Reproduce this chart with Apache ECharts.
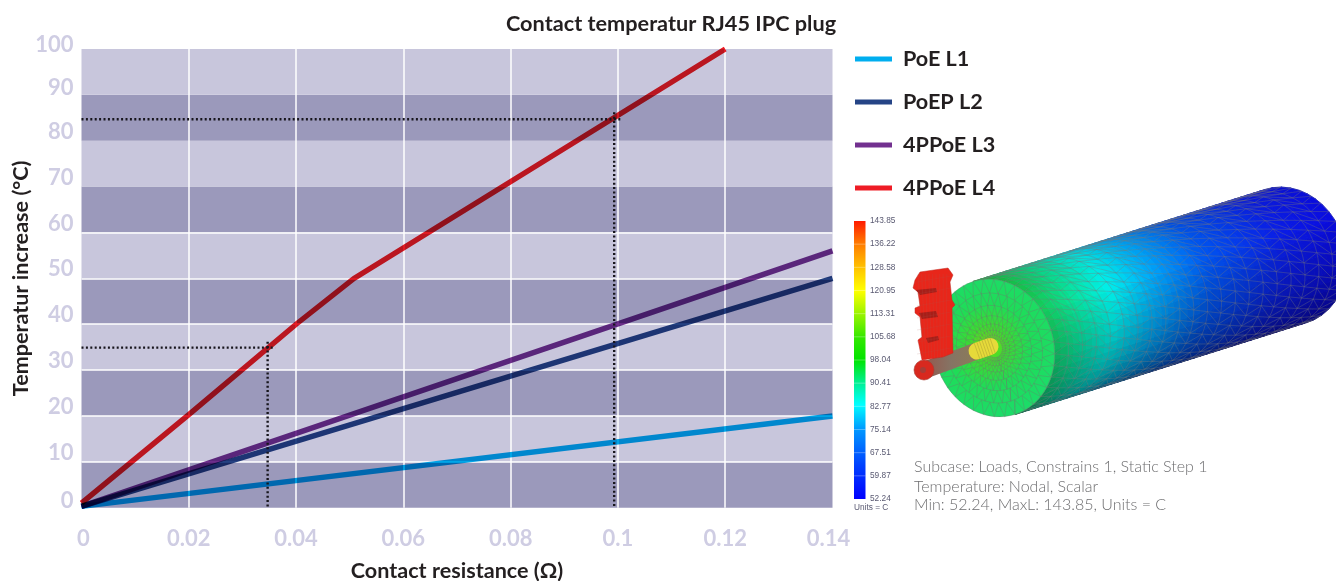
<!DOCTYPE html>
<html><head><meta charset="utf-8">
<style>html,body{margin:0;padding:0;background:#fff}#c{width:1336px;height:581px}</style>
<script src="https://cdn.jsdelivr.net/npm/echarts@6/dist/echarts.min.js"></script>
</head><body><div id="c"></div>
<script>
const titleText = 'Contact temperatur RJ45 IPC plug';
const xName = 'Contact resistance (Ω)';
const yName = 'Temperatur increase (°C)';
const poeL1 = [[0, 0.3], [0.14, 20]];
const poepL2 = [[0, 0.3], [0.14, 50]];
const ppoeL3 = [[0, 0.3], [0.14, 56]];
const ppoeL4 = [[0, 1], [0.02, 20.3], [0.04, 40], [0.0508, 50], [0.12, 100]];
const guideLow = [[0, 34.9], [0.0361, 34.9]];
const guideLowV = [[0.0347, 36.2], [0.0347, 0]];
const guideHigh = [[0, 84.7], [0.1007, 84.7]];
const guideHighV = [[0.0993, 86.2], [0.0993, 0]];
const whiteRules = [10, 20, 30, 40, 50, 60];
const scaleLabels = ['143.85','136.22','128.58','120.95','113.31','105.68','98.04','90.41','82.77','75.14','67.51','59.87','52.24'];
const noteLines = ['Subcase: Loads, Constrains 1, Static Step 1','Temperature: Nodal, Scalar','Min: 52.24, MaxL: 143.85, Units = C'];

const FONT = 'Lato';
const INK = '#231f20';
const TICK = '#cfcde3';

/* ---------- illustration (decorative FEA render) ---------- */
const g = [];
function lerp(a,b,k){return a+(b-a)*k;}
function ramp(stops,k){
  for(let i=1;i<stops.length;i++){
    if(k<=stops[i][0]){
      const p=stops[i-1],q=stops[i],f=(k-p[0])/(q[0]-p[0]||1);
      return [lerp(p[1],q[1],f),lerp(p[2],q[2],f),lerp(p[3],q[3],f)];
    }
  }
  const l=stops[stops.length-1];return [l[1],l[2],l[3]];
}
const bodyStops=[[0,20,205,95],[0.09,10,225,150],[0.22,0,240,235],[0.36,0,170,250],[0.55,0,85,240],[0.8,10,30,230],[1,10,10,225]];
const C=[994,348],M=[21,66.5],N=[57,-18],D=[292,-92];
function P(th,t,r){r=r==null?1:r;return [C[0]+r*(M[0]*Math.cos(th)+N[0]*Math.sin(th))+D[0]*t,C[1]+r*(M[1]*Math.cos(th)+N[1]*Math.sin(th))+D[1]*t];}
function shade(u){ // u 0 bottom .. 1 top
  return u<0.62?lerp(0.42,1,Math.pow(u/0.62,0.8)):lerp(1,0.9,(u-0.62)/0.38);
}
const NT=46,NTH=22;
for(let i=0;i<NT;i++){for(let j=0;j<NTH;j++){
  const t0=i/NT,t1=(i+1)/NT,a0=Math.PI*j/NTH,a1=Math.PI*(j+1)/NTH;
  const rgb=ramp(bodyStops,Math.min(1,(t0+0.5/NT)+(0.14*(0.5-j/NTH))));
  const s=shade((j+0.5)/NTH);
  const col='rgb('+rgb.map(v=>Math.round(v*s)).join(',')+')';
  g.push({type:'polygon',silent:true,z:10,shape:{points:[P(a0,t0),P(a1,t0),P(a1,t1),P(a0,t1)]},style:{fill:col,stroke:col,lineWidth:1}});
}}
// body mesh
const MESH='rgba(120,120,120,0.5)';
const RINGS=21,SEG=18;
for(let i=0;i<=RINGS;i++){
  const t=i/RINGS,pts=[];
  for(let j=0;j<=36;j++)pts.push(P(Math.PI*j/36,t));
  g.push({type:'polyline',silent:true,z:11,shape:{points:pts},style:{stroke:MESH,lineWidth:0.7,fill:null}});
  if(i<RINGS){
    const z=[];
    for(let j=0;j<=SEG;j++){
      const off=i%2?0.5:0;
      z.push(P(Math.PI*Math.min(1,(j+off)/SEG),t));
      z.push(P(Math.PI*Math.min(1,(j+0.5-off)/SEG),(i+1)/RINGS));
    }
    g.push({type:'polyline',silent:true,z:11,shape:{points:z},style:{stroke:MESH,lineWidth:0.7,fill:null}});
  }
}
// front face
{const pts=[];for(let k=0;k<72;k++)pts.push(P(Math.PI*2*k/72,0));
 g.push({type:'polygon',silent:true,z:12,shape:{points:pts},style:{stroke:'none',fill:{type:'radial',x:988,y:345,r:70,global:true,colorStops:[{offset:0,color:'#7ce010'},{offset:0.25,color:'#3ddc30'},{offset:0.6,color:'#1fdc58'},{offset:1,color:'#1cdc68'}]}}});
 const radii=[1,0.8,0.62,0.47,0.35,0.26,0.19,0.14];
 radii.forEach((r,ri)=>{
   const n=Math.max(10,Math.round(36-ri*1)),ring=[];
   for(let k=0;k<=n;k++)ring.push(P(Math.PI*2*k/n,0,r));
   g.push({type:'polyline',silent:true,z:13,shape:{points:ring},style:{stroke:'rgba(110,120,110,0.6)',lineWidth:0.6,fill:null}});
   if(ri<radii.length-1){
     const z=[],r2=radii[ri+1];
     for(let k=0;k<=n;k++){z.push(P(Math.PI*2*k/n,0,r));z.push(P(Math.PI*2*(k+0.5)/n,0,r2));}
     g.push({type:'polyline',silent:true,z:13,shape:{points:z},style:{stroke:'rgba(110,120,110,0.6)',lineWidth:0.6,fill:null}});
   }
 });
}
// shaft, tip
g.push({type:'line',silent:true,z:15,shape:{x1:925,y1:370,x2:977,y2:351},style:{lineWidth:17,stroke:{type:'linear',x:925,y:0,x2:977,y2:0,global:true,colorStops:[{offset:0,color:'#94584e'},{offset:0.5,color:'#857464'},{offset:1,color:'#8c7c58'}]}}});
g.push({type:'line',silent:true,z:15,shape:{x1:977,y1:351,x2:990,y2:346.5},style:{lineWidth:17,lineCap:'round',stroke:'#e6da3a'}});
for(let i=0;i<7;i++){const x=977+i*2.6;g.push({type:'line',silent:true,z:16,shape:{x1:x-2.8,y1:343-(x-977)*0.35,x2:x+2.8,y2:359-(x-977)*0.35},style:{stroke:'rgba(130,120,40,0.5)',lineWidth:0.6}});}
// ring at the end of the shaft
g.push({type:'circle',silent:true,z:17,shape:{cx:924,cy:370,r:10},style:{fill:'#d8291f',stroke:'#a83a32',lineWidth:0.6}});
g.push({type:'circle',silent:true,z:18,shape:{cx:923,cy:370,r:3},style:{fill:'#a83c36'}});
// red plug
g.push({type:'polygon',silent:true,z:17,shape:{points:[[915,280],[920,272],[948,268],[953,275],[950,282],[952,300],[955,305],[952,308],[953,353],[943,357],[922,360],[918,340],[922,337],[920,317],[915,313],[915,308],[920,306],[918,292],[913,288]]},style:{fill:'#e8261a',stroke:'#c02a22',lineWidth:0.5}});
[[[916,290],[936,288],[937,292],[920,295]],[[919,313],[936,311],[938,317],[922,319]],[[926,338],[938,336],[939,340],[928,343]]].forEach(p=>g.push({type:'polygon',silent:true,z:18,shape:{points:p},style:{fill:'#a81e18'}}));
for(let k=0;k<9;k++){g.push({type:'line',silent:true,z:18,shape:{x1:918+k*3.6,y1:274,x2:923+k*2.9,y2:358},style:{stroke:'rgba(170,90,80,0.35)',lineWidth:0.5}});}
for(let k=0;k<7;k++){g.push({type:'line',silent:true,z:18,shape:{x1:917,y1:282+k*12,x2:951,y2:276+k*12},style:{stroke:'rgba(170,90,80,0.3)',lineWidth:0.5}});}
// colour scale
const barTop=221,barBottom=499,barL=854,barW=11.5;
g.push({type:'rect',silent:true,z:10,shape:{x:barL,y:barTop,width:barW,height:barBottom-barTop},style:{fill:{type:'linear',x:0,y:0,x2:0,y2:1,colorStops:[
  {offset:0,color:'#ff1a00'},{offset:0.08,color:'#ff7a00'},{offset:0.17,color:'#ffc400'},{offset:0.25,color:'#ffff00'},{offset:0.42,color:'#33e800'},{offset:0.5,color:'#00e400'},{offset:0.58,color:'#00f090'},{offset:0.66,color:'#00ffff'},{offset:0.75,color:'#0098ff'},{offset:0.88,color:'#0040ff'},{offset:1,color:'#0000ff'}]}}});
scaleLabels.forEach((s,i)=>{
  const y=barTop+i*(barBottom-barTop)/(scaleLabels.length-1);
  if(i>0&&i<scaleLabels.length-1)g.push({type:'line',silent:true,z:11,shape:{x1:barL,y1:y,x2:barL+barW,y2:y},style:{stroke:'rgba(255,255,255,0.3)',lineWidth:1}});
  g.push({type:'text',silent:true,z:11,x:870,y:y,style:{text:s,font:'8.3px "Liberation Sans"',fill:'#5a5a72',verticalAlign:'middle'}});
});
g.push({type:'text',silent:true,z:11,x:854,y:508,style:{text:'Units = C',font:'8.3px "Liberation Sans"',fill:'#5a5a72',verticalAlign:'middle'}});
[467,487,505].forEach((y,i)=>g.push({type:'text',silent:true,z:11,x:914,y:y,style:{text:noteLines[i],font:'300 16px '+FONT,fill:'#6e6e70',verticalAlign:'middle'}}));

/* ---------- chart ---------- */
const dataLine=(name,data,color)=>({name,type:'line',data,showSymbol:false,symbol:'none',silent:true,animation:false,blendMode:'multiply',z:5,
  lineStyle:{color,width:5.4,cap:'butt',join:'miter'},itemStyle:{color}});
const dotted=(name,data)=>({name,type:'line',data,showSymbol:false,symbol:'none',silent:true,animation:false,z:6,
  lineStyle:{color:'#17151c',width:2.4,type:[2,2.4],cap:'butt'}});
const tickFont={fontFamily:FONT,fontWeight:'bold',fontSize:22,color:TICK};

const chart=echarts.init(document.getElementById('c'),null,{renderer:'canvas'});
chart.setOption({
  animation:false,
  backgroundColor:'#fff',
  title:{text:titleText,left:506,top:13,padding:0,textStyle:{fontFamily:FONT,fontWeight:'bold',fontSize:21.7,color:INK}},
  legend:{data:['PoE L1','PoEP L2','4PPoE L3','4PPoE L4'],orient:'vertical',left:855,top:48,padding:0,itemWidth:37,itemHeight:5,itemGap:21,icon:'rect',selectedMode:false,
    textStyle:{fontFamily:FONT,fontWeight:'bold',fontSize:21.6,color:INK,padding:[0,0,0,6]}},
  grid:{left:81.5,right:503.5,top:49,bottom:73.3,outerBoundsMode:'none'},
  xAxis:{type:'value',min:0,max:0.14,interval:0.02,name:xName,nameLocation:'middle',nameGap:52,nameMoveOverlap:false,
    nameTextStyle:{fontFamily:FONT,fontWeight:'bold',fontSize:21.6,color:INK},
    axisLine:{show:false},axisTick:{show:false},
    axisLabel:Object.assign({},tickFont,{margin:20,
      formatter:v=>v===0.14?'{r|0.14}':v===0?'{l|0}':String(v),
      rich:{r:Object.assign({},tickFont,{padding:[0,8,0,0]}),l:Object.assign({},tickFont,{padding:[0,0,0,4]})}}),
    splitLine:{show:true,showMinLine:false,showMaxLine:false,lineStyle:{color:'#fff',width:1.5}}},
  yAxis:{type:'value',min:0,max:100,interval:10,name:yName,nameLocation:'middle',nameGap:49,nameMoveOverlap:false,
    nameTextStyle:{fontFamily:FONT,fontWeight:'bold',fontSize:21.6,color:INK},
    axisLine:{show:false},axisTick:{show:false},
    axisLabel:Object.assign({},tickFont,{margin:8,verticalAlign:'bottom',lineHeight:18,
      formatter:v=>v===100?'{a|100}':(v===90||v===0)?'{b|'+v+'}':String(v),
      rich:{a:Object.assign({},tickFont,{lineHeight:8}),b:Object.assign({},tickFont,{lineHeight:14})}}),
    splitLine:{show:false},
    splitArea:{show:true,areaStyle:{color:['#9b99bb','#c8c6dc']}}},
  series:[
    {name:'rules',type:'line',data:[],silent:true,z:2,markLine:{silent:true,animation:false,symbol:'none',label:{show:false},lineStyle:{color:'#fff',width:1.5,type:'solid'},data:whiteRules.map(v=>({yAxis:v}))}},
    dataLine('PoE L1',poeL1,'#00aeef'),
    dataLine('PoEP L2',poepL2,'#254486'),
    dataLine('4PPoE L3',ppoeL3,'#72308f'),
    dataLine('4PPoE L4',ppoeL4,'#ee1c25'),
    dotted('guide a',guideLow),dotted('guide b',guideLowV),dotted('guide c',guideHigh),dotted('guide d',guideHighV)
  ],
  graphic:g
});
</script></body></html>
